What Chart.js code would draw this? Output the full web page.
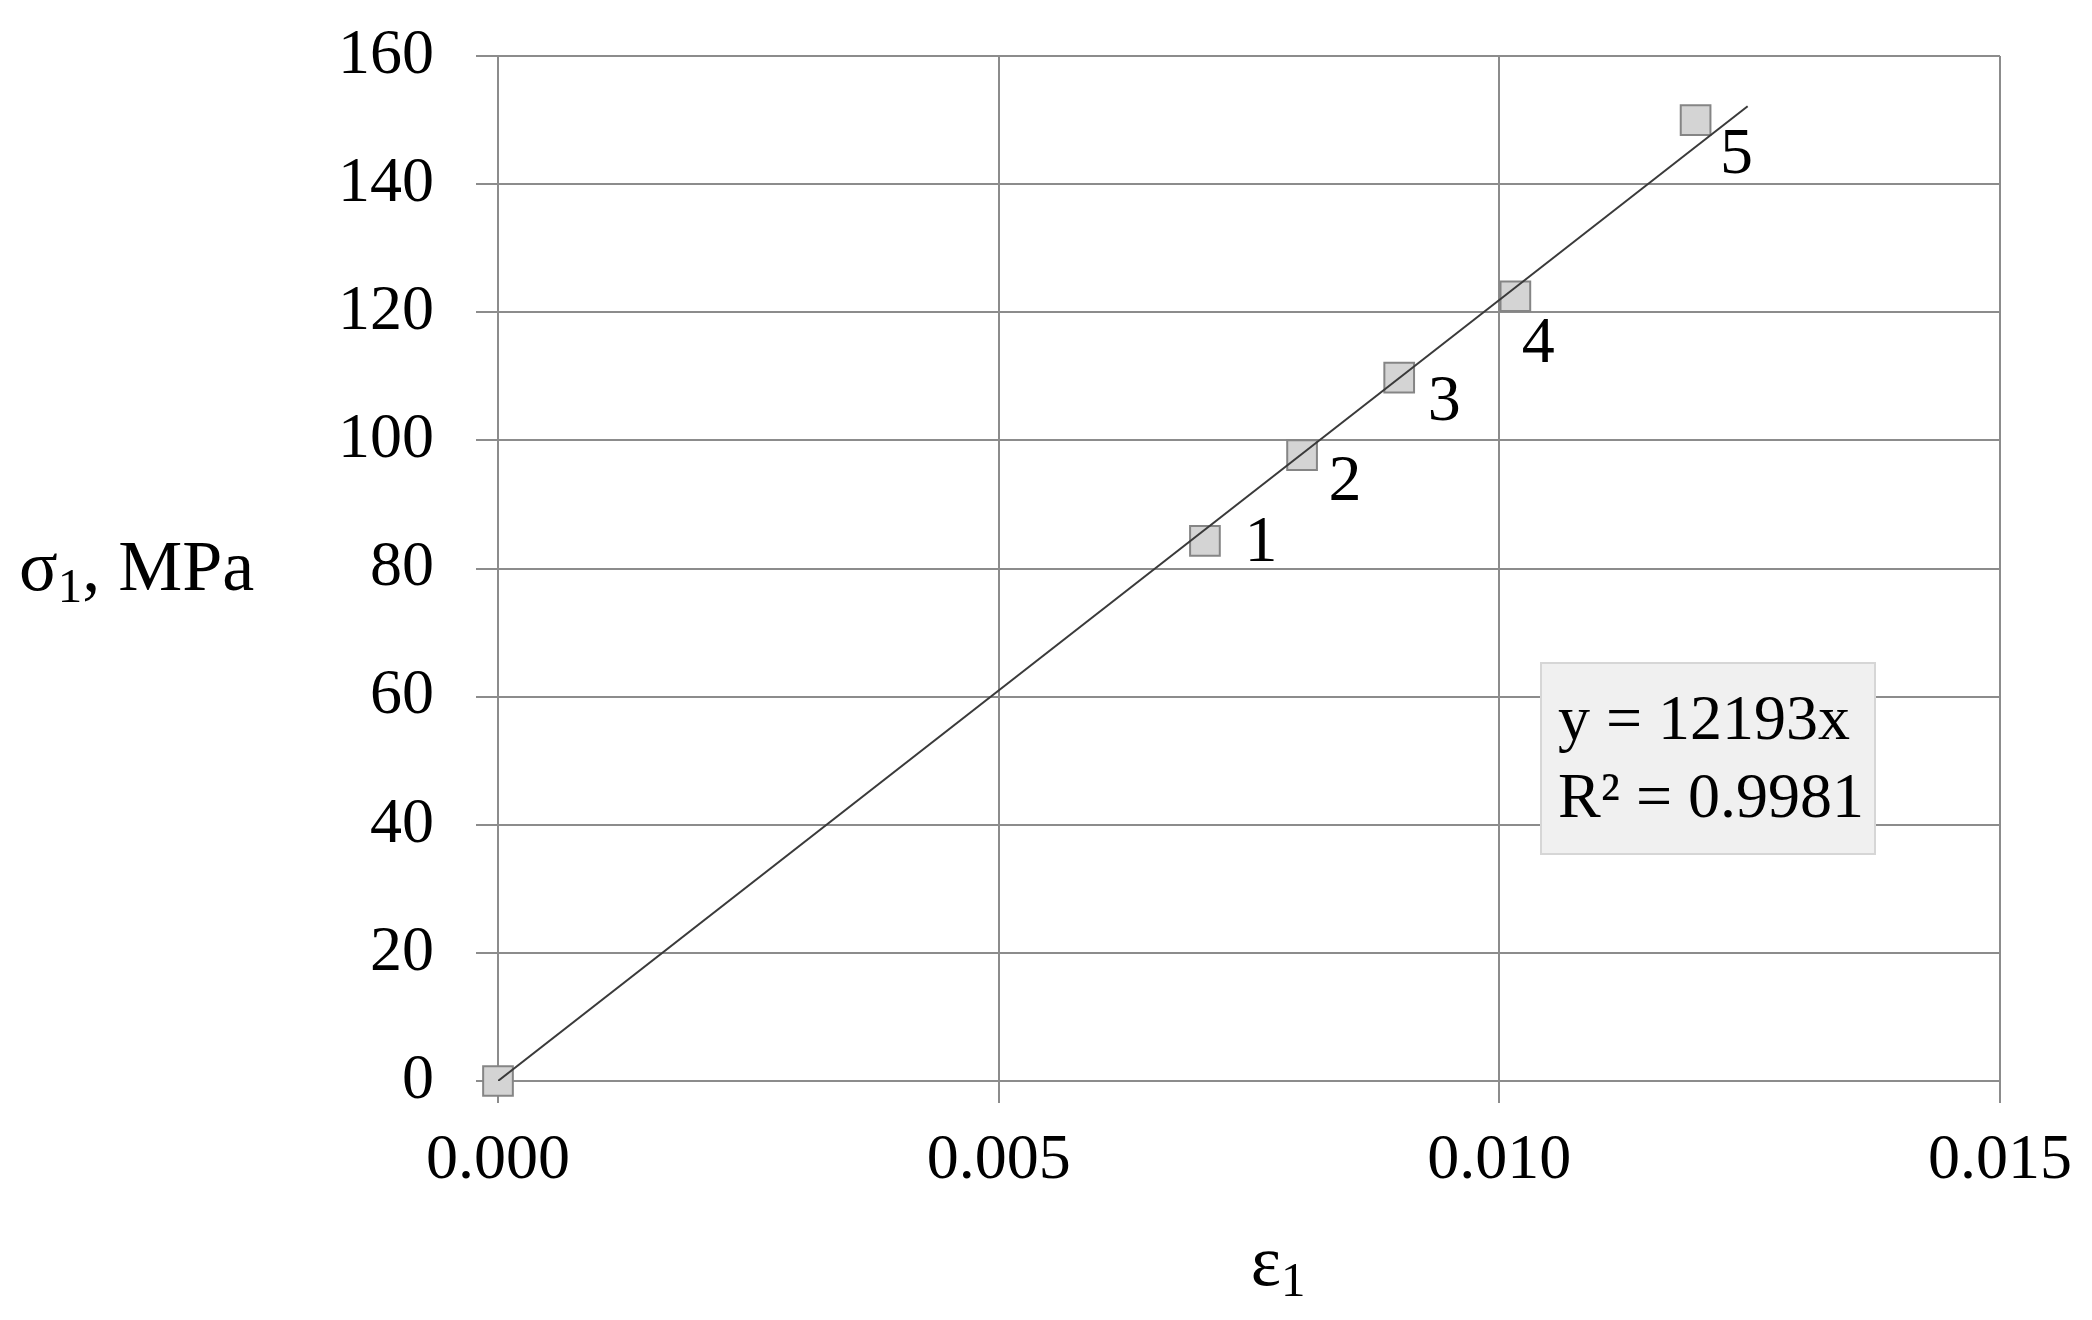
<!DOCTYPE html>
<html>
<head>
<meta charset="utf-8">
<script src="https://cdn.jsdelivr.net/npm/chart.js@4.4.1/dist/chart.umd.min.js"></script>
<style>
  html, body { margin: 0; padding: 0; background: #fff; }
  canvas { display: block; }
</style>
</head>
<body>
<canvas id="stressChart" width="2092" height="1320"></canvas>
<script>
// measured points (strain, stress in MPa)
const strainVals = [0, 0.00706, 0.00803, 0.00900, 0.01016, 0.01196];
const stressVals = [0, 84.3, 97.7, 109.8, 122.5, 150.0];
const pointNames = ['', '1', '2', '3', '4', '5'];

// linear trend through origin, as printed on the chart
const trendSlope = 12193;
const trendEndX = 0.01248;
const eqnLines = ['y = 12193x', 'R\u00b2 = 0.9981'];

const xTicks = [0, 0.005, 0.010, 0.015];
const yTicks = [0, 20, 40, 60, 80, 100, 120, 140, 160];

const FONT = '"Liberation Serif", "DejaVu Serif", serif';
const GRID = '#8c8c8c';

// text with a subscript bit, e.g. sigma_1
function drawSub(ctx, parts, x, y, size) {
  let cx = x;
  parts.forEach(p => {
    const s = p.sub ? size * 0.68 : size;
    ctx.font = s + 'px ' + FONT;
    ctx.fillText(p.t, cx, y + (p.sub ? size * 0.24 : 0));
    cx += ctx.measureText(p.t).width;
  });
  return cx;
}
function subWidth(ctx, parts, size) {
  let w = 0;
  parts.forEach(p => {
    ctx.font = (p.sub ? size * 0.68 : size) + 'px ' + FONT;
    w += ctx.measureText(p.t).width;
  });
  return w;
}

const extras = {
  id: 'extras',
  afterDraw(chart) {
    const { ctx, chartArea: ca, scales } = chart;
    ctx.save();
    ctx.fillStyle = '#000';
    ctx.textBaseline = 'middle';
    ctx.textAlign = 'left';

    // point numbers
    const offs = [[0, 0], [56, 3], [43, 28], [45, 25], [23, 48], [41, 36]];
    ctx.font = '66px ' + FONT;
    ctx.textAlign = 'center';
    pointNames.forEach((n, i) => {
      if (!n) return;
      const px = scales.x.getPixelForValue(strainVals[i]);
      const py = scales.y.getPixelForValue(stressVals[i]);
      ctx.fillText(n, px + offs[i][0], py + offs[i][1]);
    });

    // equation box
    const bx = ca.left + 1043, by = ca.top + 607, bw = 334, bh = 191;
    ctx.fillStyle = '#f0f0f0';
    ctx.fillRect(bx, by, bw, bh);
    ctx.strokeStyle = '#d6d6d6';
    ctx.lineWidth = 2;
    ctx.strokeRect(bx, by, bw, bh);
    ctx.fillStyle = '#000';
    ctx.textAlign = 'left';
    ctx.font = '64px ' + FONT;
    eqnLines.forEach((l, i) => ctx.fillText(l, bx + 17, by + 59 + i * 78));

    // y title (horizontal, left side)
    const yParts = [{ t: '\u03c3' }, { t: '1', sub: true }, { t: ', MPa' }];
    drawSub(ctx, yParts, 19, (ca.top + ca.bottom) / 2 + 3, 72);

    // x title
    const xParts = [{ t: '\u03b5' }, { t: '1', sub: true }];
    const w = subWidth(ctx, xParts, 72);
    drawSub(ctx, xParts, 1278 - w / 2, 1266, 72);

    ctx.restore();
  }
};

new Chart(document.getElementById('stressChart'), {
  type: 'scatter',
  data: {
    datasets: [
      {
        label: 'trend',
        type: 'line',
        data: [{ x: 0, y: 0 }, { x: trendEndX, y: trendSlope * trendEndX }],
        borderColor: '#3a3a3a',
        borderWidth: 2,
        pointRadius: 0,
        fill: false
      },
      {
        label: 'points',
        data: strainVals.map((x, i) => ({ x: x, y: stressVals[i] })),
        pointStyle: 'rect',
        pointRadius: 21,
        backgroundColor: '#d4d4d4',
        borderColor: '#858585',
        borderWidth: 2,
        clip: false
      }
    ]
  },
  options: {
    responsive: false,
    animation: false,
    devicePixelRatio: 1,
    layout: { padding: { top: 56, right: 92, bottom: 0, left: 0 } },
    plugins: { legend: { display: false }, tooltip: { enabled: false } },
    scales: {
      x: {
        type: 'linear',
        min: 0,
        max: 0.015,
        afterBuildTicks: s => { s.ticks = xTicks.map(v => ({ value: v })); },
        afterFit: s => { s.height = 239; s.paddingLeft = 0; s.paddingRight = 0; },
        ticks: {
          padding: 20,
          color: '#000',
          font: { family: FONT, size: 64 },
          callback: v => v.toFixed(3)
        },
        grid: { color: GRID, lineWidth: 2, tickLength: 22 },
        border: { color: GRID, width: 2 }
      },
      y: {
        type: 'linear',
        min: 0,
        max: 160,
        afterBuildTicks: s => { s.ticks = yTicks.map(v => ({ value: v })); },
        afterFit: s => { s.width = 498; s.paddingTop = 0; s.paddingBottom = 0; },
        ticks: {
          padding: 42,
          color: '#000',
          font: { family: FONT, size: 64 }
        },
        grid: { color: GRID, lineWidth: 2, tickLength: 22 },
        border: { color: GRID, width: 2 }
      }
    }
  },
  plugins: [extras]
});
</script>
</body>
</html>
